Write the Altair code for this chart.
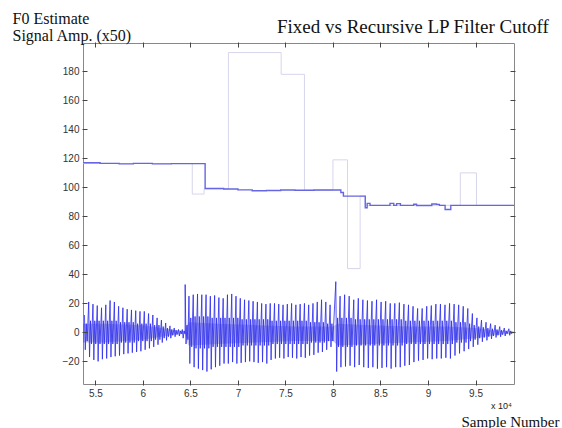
import altair as alt
import pandas as pd

# ---- F0 estimate, recursive LP cutoff (blue step line); x in thousands of samples
rec_x = [53.7, 55.5, 57.5, 59.0, 61.0, 63.0, 66.55, 68.5, 70.0, 71.5, 73.0, 74.5, 76.0, 78.0,
         80.83, 81.1, 83.4, 83.6, 83.9, 86.0, 86.4, 86.7, 87.1, 88.5, 88.8, 90.4, 90.9, 91.2,
         91.8, 92.4, 99.05]
rec_f0 = [117.0, 116.6, 116.2, 116.6, 116.2, 116.4, 99.2, 98.9, 98.3, 97.7, 97.9, 98.2, 98.0, 98.2,
          96.5, 94.0, 86.0, 89.0, 87.6, 89.0, 87.6, 88.8, 87.6, 88.4, 87.5, 88.6, 88.3, 87.6,
          84.8, 87.6, 87.6]

# ---- F0 estimate, fixed LP cutoff (pale step line)
fix_x = [53.7, 65.2, 66.44, 69.0, 74.55, 77.0, 80.0, 81.53, 82.86, 83.4, 93.4, 95.1, 99.05]
fix_f0 = [116.5, 95.4, 99.0, 193.0, 178.0, 98.0, 119.0, 44.0, 94.0, 87.6, 110.0, 87.6, 87.6]

# ---- speech signal (x50): per pitch period a positive peak, a negative peak and ringing
spike_x = [53.85, 54.3, 54.75, 55.2, 55.65, 56.1, 56.55, 57.0, 57.45, 57.9, 58.35, 58.8, 59.25,
           59.7, 60.15, 60.6, 61.05, 61.5, 61.95, 62.4, 62.85, 63.3, 63.75, 64.15,
           64.45,
           64.85, 65.3, 65.75, 66.2, 66.65, 67.1, 67.55, 68.0, 68.45, 68.9, 69.35, 69.8, 70.25,
           70.7, 71.15, 71.6, 72.05, 72.5, 72.95, 73.4, 73.85, 74.3, 74.75, 75.2, 75.65, 76.1,
           76.55, 77.0, 77.45, 77.9, 78.35, 78.8, 79.25, 79.7,
           80.3,
           80.75, 81.23, 81.71, 82.19, 82.67, 83.15, 83.63, 84.11, 84.59, 85.07, 85.55, 86.03,
           86.51, 86.99, 87.47, 87.95, 88.43, 88.91, 89.39, 89.87, 90.35, 90.83, 91.31, 91.79,
           92.27, 92.75, 93.23, 93.71, 94.19, 94.67, 95.15, 95.63, 96.11, 96.59, 97.07, 97.55,
           98.03, 98.51]
spike_top = [12, 21, 19.5, 18.5, 17, 19, 22, 21, 18, 17, 16, 15.5, 15, 14.5, 14.5, 13, 12, 10,
             8.5, 6.5, 4.5, 3, 2, 2,
             33,
             25, 26, 26.5, 26, 26, 25, 25.5, 24, 23.5, 26, 26.5, 25, 23.5, 22.5, 22, 21.5, 21,
             20, 19.5, 20, 20, 19.5, 19, 19.5, 20, 19, 19.5, 20, 19, 20, 21, 22.5, 21, 19,
             35,
             25, 26, 25, 22.5, 23.5, 22.5, 22, 21.5, 22.5, 21, 21.5, 20, 20, 20.5, 19.5, 19, 18,
             16.5, 16.5, 18, 18.5, 19.5, 19.5, 19, 20, 19.5, 19, 18, 16.5, 13, 10, 8.5, 7, 6, 5,
             4, 3, 2.5]
spike_bot = [-12, -17, -19, -20, -18.5, -18, -17, -16.5, -16, -15, -14.5, -14, -13.5, -13, -12,
             -11, -10, -8.5, -7, -5.5, -4, -3, -2.5, -4,
             -8,
             -21.5, -24, -25, -26, -27, -25.5, -24, -23, -21.5, -21.5, -20.5, -21.5, -21, -20.5,
             -20, -20.5, -21, -20.5, -21.5, -19, -18, -17.5, -18, -17, -17.5, -18, -17, -17.5,
             -16, -15.5, -14, -13.5, -12, -10,
             -27,
             -24, -23.5, -23, -24, -22.5, -24, -24.5, -24, -25, -24.5, -24, -25, -24, -24, -23,
             -22.5, -20.5, -19.5, -19, -18, -18.5, -18, -18, -17.5, -18, -16, -14.5, -13, -11.5,
             -10, -8.5, -6.5, -5.5, -4.5, -3.5, -3, -2.5, -2]
spike_ring = [6, 8, 8, 8, 8, 8, 8, 8, 7, 7, 7, 7, 6, 6, 6, 6, 5, 5, 4, 3, 2, 1.5, 1, 1,
              5,
              10, 11, 11, 11, 11, 10, 10, 10, 10, 10, 10, 10, 9, 9, 9, 9, 9, 9, 9, 8, 8, 8, 8, 8,
              8, 8, 8, 8, 7, 7, 7, 7, 6, 6,
              10,
              10, 10, 10, 9, 9, 9, 9, 9, 9, 9, 9, 9, 9, 9, 8, 8, 8, 8, 8, 8, 8, 8, 8, 8, 8, 7, 7,
              7, 6, 5, 4, 3.5, 3, 2.5, 2, 1.5, 1, 1]

# dense dark core of the waveform
core_x = [53.7, 56.0, 60.0, 63.0, 64.4, 64.8, 68.0, 72.0, 76.0, 80.0, 80.5, 84.0, 88.0, 92.0,
          95.0, 97.0, 99.0]
core_hi = [6, 6, 5, 2, 1, 7, 6, 5, 4, 4, 6, 5, 4, 4, 3, 1.5, 1]
core_lo = [-7, -7, -5, -2, -1, -9, -8, -7, -6, -6, -9, -8, -7, -6, -4, -2, -1]

x_ticks = [55000, 60000, 65000, 70000, 75000, 80000, 85000, 90000, 95000]
y_ticks = [-20, 0, 20, 40, 60, 80, 100, 120, 140, 160, 180]

# ---- tables
rec_df = pd.DataFrame({"x": [v * 1000 for v in rec_x], "y": rec_f0})
fix_df = pd.DataFrame({"x": [v * 1000 for v in fix_x], "y": fix_f0})
rows = []
k = 0
for sx, t, b, r in zip(spike_x, spike_top, spike_bot, spike_ring):
    for dx, val in ((0, t), (90, b), (190, r), (290, -r)):
        rows.append({"x": sx * 1000 + dx, "y": val, "o": k})
        k += 1
sig_df = pd.DataFrame(rows)
core_df = pd.DataFrame({"x": [v * 1000 for v in core_x], "hi": core_hi, "lo": core_lo})

x_scale = alt.Scale(domain=[53700, 99050], nice=False, zero=False)
y_scale = alt.Scale(domain=[-35.6, 199.6], nice=False, zero=False)

common = dict(domain=False, grid=False, ticks=True, tickSize=5, tickColor="#444",
              tickWidth=1, tickOpacity=1, offset=-4, zindex=2)
lab = dict(labelFont="Liberation Sans", labelFontSize=10, labelColor="#333")

x_bottom = alt.Axis(orient="bottom", values=x_ticks, labelExpr="'' + (datum.value / 10000)",
                    labelPadding=3, title="Sample Number", titleFont="Liberation Serif",
                    titleFontSize=15, titleFontWeight="normal", titleColor="#111",
                    titleX=378, titleY=46, titleAlign="left", titleBaseline="alphabetic",
                    **lab, **common)
y_left = alt.Axis(orient="left", values=y_ticks, labelPadding=3,
                  title=["F0 Estimate", "Signal Amp. (x50)"], titleFont="Liberation Serif",
                  titleFontSize=16, titleFontWeight="normal", titleColor="#111", titleAngle=0,
                  titleX=-75, titleY=-20, titleAlign="left", titleBaseline="alphabetic",
                  titleLineHeight=17, **lab, **common)
x_top = alt.Axis(orient="top", values=x_ticks, labels=False, title=None, **common)
y_right = alt.Axis(orient="right", values=y_ticks, labels=False, title="x 10⁴",
                   titleFont="Liberation Sans", titleFontSize=9, titleFontWeight="normal",
                   titleColor="#222", titleAngle=0, titleX=-9, titleY=365,
                   titleAlign="center", titleBaseline="alphabetic", **common)

fixed = alt.Chart(fix_df).mark_line(interpolate="step-after", color="#d6d6ec",
                                    strokeWidth=1).encode(
    x=alt.X("x:Q", scale=x_scale, axis=x_bottom),
    y=alt.Y("y:Q", scale=y_scale, axis=y_left),
)
recur = alt.Chart(rec_df).mark_line(interpolate="step-after", color="#6666e4",
                                    strokeWidth=1.4).encode(
    x=alt.X("x:Q", scale=x_scale, axis=x_top),
    y=alt.Y("y:Q", scale=y_scale, axis=y_right),
)
core = alt.Chart(core_df).mark_area(color="#1c1cc0", opacity=0.25).encode(
    x=alt.X("x:Q", scale=x_scale, axis=None),
    y=alt.Y("hi:Q", scale=y_scale, axis=None),
    y2="lo:Q",
)
signal = alt.Chart(sig_df).mark_line(color="#2a2aee", strokeWidth=0.8).encode(
    x=alt.X("x:Q", scale=x_scale, axis=None),
    y=alt.Y("y:Q", scale=y_scale, axis=None),
    order="o:Q",
)

chart = alt.layer(fixed, recur, core, signal).resolve_axis(
    x="independent", y="independent"
).properties(
    width=431, height=341,
    autosize=alt.AutoSizeParams(type="none"),
    padding={"left": 83, "top": 43, "right": 48, "bottom": 44},
    background="white",
    title=alt.Title("Fixed vs Recursive LP Filter Cutoff", anchor="start", frame="group",
                    dx=194, dy=52, offset=10, font="Liberation Serif", fontSize=19,
                    fontWeight="normal", color="#111", baseline="alphabetic"),
).configure_view(stroke="#888", strokeWidth=1)

chart.save("out.html", embed_options={"renderer": "svg", "actions": False})
